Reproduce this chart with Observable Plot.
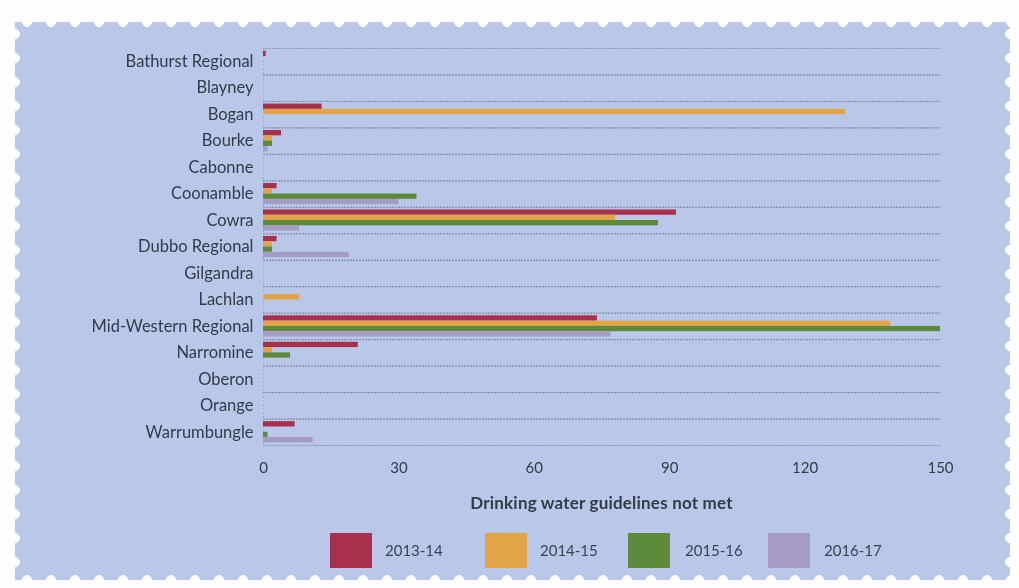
<!DOCTYPE html>
<html>
<head>
<meta charset="utf-8">
<script src="https://cdn.jsdelivr.net/npm/d3@7"></script>
<script src="https://cdn.jsdelivr.net/npm/@observablehq/plot@0.6"></script>
<style>
  html, body { margin: 0; padding: 0; background: #fdfdfd; }
  body { width: 1019px; height: 588px; position: relative; overflow: hidden; font-family: Lato, "Open Sans", sans-serif; }
  #panel {
    position: absolute; left: 15px; top: 22px; width: 995px; height: 558px;
    background: #b9c8e8;
    -webkit-mask:
      radial-gradient(circle 5px at 50% 0, transparent 98%, #000) 0 0 / 24px 100% repeat-x,
      radial-gradient(circle 5px at 50% 100%, transparent 98%, #000) 0 0 / 24px 100% repeat-x,
      radial-gradient(circle 5px at 0 50%, transparent 98%, #000) 0 0 / 100% 24px repeat-y,
      radial-gradient(circle 5px at 100% 50%, transparent 98%, #000) 0 0 / 100% 24px repeat-y;
    -webkit-mask-composite: source-in;
    mask-composite: intersect;
  }
  #chart { position: absolute; left: 0; top: 0; }
  #xtitle { position: absolute; left: 248px; width: 677px; top: 470px; text-align: center; font-weight: bold; font-size: 17px; color: #323b4a; letter-spacing: 0.2px; }
  #legend { position: absolute; top: 511px; left: 0; width: 995px; height: 36px; }
  .sw { position: absolute; top: 0; width: 42px; height: 35px; }
  .lab { position: absolute; top: 8px; font-size: 15px; color: #3a4352; }
</style>
</head>
<body>
<div id="panel">
  <div id="chart"></div>
  <div id="xtitle">Drinking water guidelines not met</div>
  <div id="legend"></div>
</div>
<script>
const councils = ["Bathurst Regional","Blayney","Bogan","Bourke","Cabonne","Coonamble","Cowra","Dubbo Regional","Gilgandra","Lachlan","Mid-Western Regional","Narromine","Oberon","Orange","Warrumbungle"];
const years = ["2013-14","2014-15","2015-16","2016-17"];
const colors = ["#a8304c","#e3a446","#5c8a3a","#a69bc6"];
const v2013 = [0.6, 0, 13, 4, 0, 3, 91.5, 3, 0, 0, 74, 21, 0, 0, 7];
const v2014 = [0, 0, 129, 2, 0, 2, 78, 2, 0, 8, 139, 2, 0, 0, 0];
const v2015 = [0, 0, 0, 2, 0, 34, 87.5, 2, 0, 0, 150, 6, 0, 0, 1];
const v2016 = [0, 0, 0, 1, 0, 30, 8, 19, 0, 0, 77, 0, 0, 0, 11];
const xTicks = [0, 30, 60, 90, 120, 150];

const series = [v2013, v2014, v2015, v2016];
const data = [];
councils.forEach((c, i) => years.forEach((y, j) => data.push({council: c, year: y, value: series[j][i]})));

const chart = Plot.plot({
  width: 995,
  height: 460,
  marginLeft: 248,
  marginRight: 70,
  marginTop: 26,
  marginBottom: 37,
  style: {background: "transparent", color: "#323b4a", fontFamily: "Lato, 'Open Sans', sans-serif"},
  fy: {domain: councils, padding: 0, round: false, label: null, axis: null},
  y: {domain: years, paddingInner: 0, paddingOuter: 0.5, round: false, axis: null},
  x: {domain: [0, 150], ticks: xTicks, label: null, axis: null},
  color: {domain: years, range: colors},
  marks: [
    Plot.frame({anchor: "top", stroke: "#7b8aa3", strokeDasharray: "1,2", strokeOpacity: 0.75}),
    Plot.frame({anchor: "bottom", stroke: "#7b8aa3", strokeDasharray: "1,2", strokeOpacity: 0.75}),
    Plot.ruleX([0], {stroke: "#7b8aa3", strokeDasharray: "1,3", strokeOpacity: 0.7}),
    Plot.barX(data, {fy: "council", y: "year", x: "value", fill: "year"}),
    Plot.axisFy({anchor: "left", domain: councils, tickSize: 0, tickPadding: 10, fontSize: 16.5, label: null}),
    Plot.axisX({ticks: xTicks, tickSize: 0, tickPadding: 17, fontSize: 15, label: null, facetAnchor: "bottom"})
  ]
});
document.getElementById("chart").appendChild(chart);

const legend = document.getElementById("legend");
const swX = [315, 470, 613, 753];
const labX = [370, 525, 670, 809];
years.forEach((y, i) => {
  const s = document.createElement("div");
  s.className = "sw"; s.style.left = swX[i] + "px"; s.style.background = colors[i];
  legend.appendChild(s);
  const l = document.createElement("div");
  l.className = "lab"; l.style.left = labX[i] + "px"; l.textContent = y;
  legend.appendChild(l);
});
</script>
</body>
</html>
